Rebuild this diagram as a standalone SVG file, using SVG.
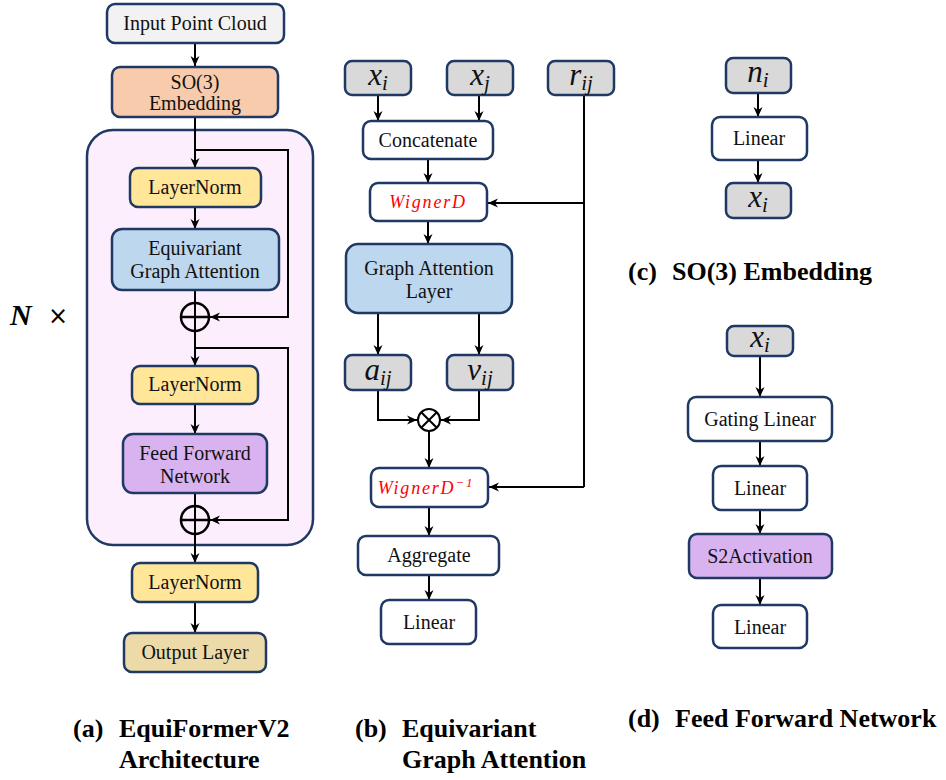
<svg xmlns="http://www.w3.org/2000/svg" width="946" height="780" viewBox="0 0 946 780">
<defs>
<style>
.box{stroke:#1f3864;stroke-width:2.5}
.w{fill:#ffffff}
.g{fill:#d9d9d9}
.ln{fill:#ffe699}
.bl{fill:#bdd7ee}
.pu{fill:#d9b3ef}
.t{font-family:"Liberation Serif","Times New Roman",serif;font-size:20px;fill:#111;text-anchor:middle}
.m{font-family:"Liberation Serif","Times New Roman",serif;font-style:italic;font-size:31px;fill:#111;text-anchor:middle}
.sub{font-size:21px}
.wd{font-family:"Liberation Serif","Times New Roman",serif;font-style:italic;font-size:18px;fill:#ff0000;text-anchor:middle;letter-spacing:1.8px}
.cap{font-family:"Liberation Serif","Times New Roman",serif;font-weight:bold;font-size:26px;fill:#000}
.c{fill:none;stroke:#000;stroke-width:2}
.ca{fill:none;stroke:#000;stroke-width:2;marker-end:url(#ah)}
</style>
<marker id="ah" markerUnits="userSpaceOnUse" markerWidth="12" markerHeight="12" viewBox="0 0 12 12" refX="11" refY="6" orient="auto">
<path d="M1,1.5 L11,6 L1,10.5 L4,6 z" fill="#000"/>
</marker>
</defs>
<rect width="946" height="780" fill="#fff"/>

<g id="block">
<rect x="87" y="130" width="226" height="415" rx="26" fill="#fdeefd" class="box"/>
</g>

<g id="connectors">
<line x1="195" y1="43" x2="195" y2="66" class="ca"/>
<line x1="195" y1="117" x2="195" y2="168" class="ca"/>
<polyline points="195,150 288,150 288,317 210,317" class="ca"/>
<line x1="195" y1="207" x2="195" y2="229" class="ca"/>
<line x1="195" y1="290" x2="195" y2="366" class="ca"/>
<polyline points="195,348 288,348 288,520 210,520" class="ca"/>
<line x1="195" y1="404" x2="195" y2="434" class="ca"/>
<line x1="195" y1="493" x2="195" y2="563" class="ca"/>
<line x1="195" y1="602" x2="195" y2="633" class="ca"/>
<line x1="378" y1="95" x2="378" y2="121" class="ca"/>
<line x1="479" y1="95" x2="479" y2="121" class="ca"/>
<line x1="428" y1="159" x2="428" y2="183" class="ca"/>
<line x1="584" y1="95" x2="584" y2="487" class="c"/>
<line x1="584" y1="203" x2="488" y2="203" class="ca"/>
<line x1="584" y1="487" x2="489" y2="487" class="ca"/>
<line x1="428" y1="221" x2="428" y2="244" class="ca"/>
<line x1="378" y1="313" x2="378" y2="355" class="ca"/>
<line x1="479" y1="313" x2="479" y2="355" class="ca"/>
<polyline points="378,390 378,420 417,420" class="ca"/>
<polyline points="479,390 479,420 441,420" class="ca"/>
<line x1="429" y1="431" x2="429" y2="468" class="ca"/>
<line x1="429" y1="507" x2="429" y2="536" class="ca"/>
<line x1="429" y1="575" x2="429" y2="600" class="ca"/>
<line x1="758" y1="93" x2="758" y2="117" class="ca"/>
<line x1="758" y1="160" x2="758" y2="183" class="ca"/>
<line x1="760" y1="356" x2="760" y2="397" class="ca"/>
<line x1="760" y1="441" x2="760" y2="466" class="ca"/>
<line x1="760" y1="510" x2="760" y2="534" class="ca"/>
<line x1="760" y1="578" x2="760" y2="605" class="ca"/>
</g>

<g id="input">
<rect x="107" y="4" width="177" height="39" rx="8" fill="#f2f2f2" class="box"/>
<text x="195" y="30" class="t">Input Point Cloud</text>
</g>
<g id="so3">
<rect x="112" y="67" width="166" height="50" rx="8" fill="#f8cbad" class="box"/>
<text x="195" y="89" class="t">SO(3)</text>
<text x="195" y="110" class="t">Embedding</text>
</g>
<g id="ln1">
<rect x="130" y="168" width="131" height="39" rx="8" class="box ln"/>
<text x="195" y="194" class="t">LayerNorm</text>
</g>
<g id="ega">
<rect x="112" y="229" width="167" height="61" rx="10" class="box bl"/>
<text x="195" y="255" class="t">Equivariant</text>
<text x="195" y="278" class="t">Graph Attention</text>
</g>
<g id="add1">
<circle cx="195" cy="317" r="14" fill="none" stroke="#000" stroke-width="2.5"/>
<line x1="181" y1="317" x2="209" y2="317" stroke="#000" stroke-width="2.5"/>
</g>
<g id="ln2">
<rect x="132" y="366" width="126" height="38" rx="8" class="box ln"/>
<text x="195" y="391" class="t">LayerNorm</text>
</g>
<g id="ffn">
<rect x="123" y="434" width="144" height="59" rx="10" class="box pu"/>
<text x="195" y="460" class="t">Feed Forward</text>
<text x="195" y="483" class="t">Network</text>
</g>
<g id="add2">
<circle cx="195" cy="520" r="14" fill="none" stroke="#000" stroke-width="2.5"/>
<line x1="181" y1="520" x2="209" y2="520" stroke="#000" stroke-width="2.5"/>
</g>
<g id="ln3">
<rect x="132" y="563" width="126" height="39" rx="8" class="box ln"/>
<text x="195" y="589" class="t">LayerNorm</text>
</g>
<g id="output">
<rect x="124" y="633" width="142" height="39" rx="8" fill="#ecdaa8" class="box"/>
<text x="195" y="659" class="t">Output Layer</text>
</g>
<g id="nx">
<text x="10" y="325" font-family="Liberation Serif,serif" font-weight="bold" font-style="italic" font-size="30" fill="#000">N</text>
<text x="48" y="324" font-family="DejaVu Sans,sans-serif" font-size="24" fill="#000">×</text>
</g>

<g id="xi">
<rect x="345" y="61" width="66" height="34" rx="7" class="box g"/>
<text x="378" y="85" class="m">x<tspan class="sub" dy="5">i</tspan></text>
</g>
<g id="xj">
<rect x="447" y="61" width="66" height="34" rx="7" class="box g"/>
<text x="480" y="85" class="m">x<tspan class="sub" dy="5">j</tspan></text>
</g>
<g id="rij">
<rect x="548" y="61" width="66" height="34" rx="7" class="box g"/>
<text x="581" y="85" class="m">r<tspan class="sub" dy="5">ij</tspan></text>
</g>
<g id="concat">
<rect x="363" y="121" width="130" height="38" rx="8" class="box w"/>
<text x="428" y="147" class="t">Concatenate</text>
</g>
<g id="wigner">
<rect x="370" y="183" width="117" height="38" rx="8" class="box w"/>
<text x="428" y="208" class="wd">WignerD</text>
</g>
<g id="gal">
<rect x="346" y="244" width="166" height="69" rx="12" class="box bl"/>
<text x="429" y="275" class="t">Graph Attention</text>
<text x="429" y="298" class="t">Layer</text>
</g>
<g id="aij">
<rect x="345" y="355" width="66" height="35" rx="7" class="box g"/>
<text x="378" y="380" class="m">a<tspan class="sub" dy="5">ij</tspan></text>
</g>
<g id="vij">
<rect x="447" y="355" width="66" height="35" rx="7" class="box g"/>
<text x="480" y="380" class="m">v<tspan class="sub" dy="5">ij</tspan></text>
</g>
<g id="mul">
<circle cx="429" cy="420" r="11" fill="#fff" stroke="#000" stroke-width="2"/>
<line x1="421.2" y1="412.2" x2="436.8" y2="427.8" stroke="#000" stroke-width="2"/>
<line x1="436.8" y1="412.2" x2="421.2" y2="427.8" stroke="#000" stroke-width="2"/>
</g>
<g id="wignerinv">
<rect x="371" y="468" width="117" height="39" rx="8" class="box w"/>
<text x="426" y="494" class="wd">WignerD<tspan font-size="13" dy="-7">−1</tspan></text>
</g>
<g id="aggregate">
<rect x="358" y="536" width="141" height="39" rx="8" class="box w"/>
<text x="429" y="562" class="t">Aggregate</text>
</g>
<g id="linb">
<rect x="381" y="600" width="95" height="44" rx="8" class="box w"/>
<text x="429" y="629" class="t">Linear</text>
</g>

<g id="ni">
<rect x="726" y="58" width="65" height="35" rx="7" class="box g"/>
<text x="758" y="82" class="m">n<tspan class="sub" dy="5">i</tspan></text>
</g>
<g id="linc">
<rect x="712" y="117" width="95" height="43" rx="8" class="box w"/>
<text x="759" y="145" class="t">Linear</text>
</g>
<g id="xic">
<rect x="726" y="183" width="65" height="35" rx="7" class="box g"/>
<text x="758" y="207" class="m">x<tspan class="sub" dy="5">i</tspan></text>
</g>

<g id="xid">
<rect x="727" y="326" width="66" height="30" rx="7" class="box g"/>
<text x="760" y="347" class="m">x<tspan class="sub" dy="5">i</tspan></text>
</g>
<g id="gating">
<rect x="688" y="397" width="144" height="44" rx="8" class="box w"/>
<text x="760" y="426" class="t">Gating Linear</text>
</g>
<g id="lind1">
<rect x="713" y="466" width="94" height="44" rx="8" class="box w"/>
<text x="760" y="495" class="t">Linear</text>
</g>
<g id="s2">
<rect x="689" y="534" width="143" height="44" rx="8" class="box pu"/>
<text x="760" y="563" class="t">S2Activation</text>
</g>
<g id="lind2">
<rect x="713" y="605" width="94" height="43" rx="8" class="box w"/>
<text x="760" y="634" class="t">Linear</text>
</g>

<g id="captions">
<text x="73" y="737" class="cap">(a)</text>
<text x="119" y="737" class="cap">EquiFormerV2</text>
<text x="119" y="768" class="cap">Architecture</text>
<text x="355" y="737" class="cap">(b)</text>
<text x="402" y="737" class="cap">Equivariant</text>
<text x="402" y="768" class="cap">Graph Attention</text>
<text x="628" y="280" class="cap">(c)</text>
<text x="672" y="280" class="cap">SO(3) Embedding</text>
<text x="628" y="727" class="cap">(d)</text>
<text x="675" y="727" class="cap">Feed Forward Network</text>
</g>
</svg>
